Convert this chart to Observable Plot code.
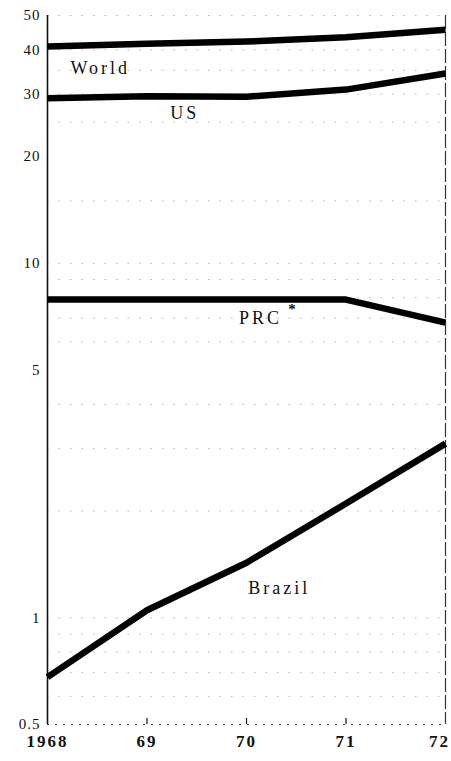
<!DOCTYPE html>
<html>
<head>
<meta charset="utf-8">
<script src="https://cdn.jsdelivr.net/npm/d3@7"></script>
<script src="https://cdn.jsdelivr.net/npm/@observablehq/plot@0.6"></script>
<style>
  html, body { margin: 0; padding: 0; background: #fff; }
  svg { display: block; }
  svg g[aria-label="text"] text { letter-spacing: 3px; }
  svg g[aria-label="x-axis tick label"] text { letter-spacing: 2px; }
  svg g[aria-label="y-axis tick label"] text { letter-spacing: 1px; }
</style>
</head>
<body>
<div id="chart"></div>
<script>
const years = [1968, 1969, 1970, 1971, 1972];
const world = [40.9, 41.6, 42.2, 43.4, 45.6];
const us = [29.2, 29.6, 29.5, 30.9, 34.3];
const prc = [7.9, 7.9, 7.9, 7.9, 6.8];
const brazil = [0.68, 1.05, 1.43, 2.1, 3.1];

const seriesNames = ["World", "US", "PRC", "Brazil"];
const seriesValues = [world, us, prc, brazil];

const labelText = ["World", "US", "PRC", "Brazil"];
const labelYear = [1968.53, 1969.38, 1970.14, 1970.33];
const labelValue = [35.4, 26.5, 7.0, 1.21];

const yTicks = [0.5, 1, 5, 10, 20, 30, 40, 50];
const yTickLabels = ["0.5", "1", "5", "10", "20", "30", "40", "50"];
const xTickLabels = ["1968", "69", "70", "71", "72"];
const gridValues = [0.6, 0.7, 0.8, 0.9, 1, 2, 3, 4, 6, 7, 8, 9, 10, 15, 25, 30, 35, 40, 50];

const rows = [];
seriesNames.forEach((name, i) => {
  years.forEach((yr, j) => rows.push({series: name, year: yr, value: seriesValues[i][j]}));
});
const labels = labelText.map((t, i) => ({text: t, year: labelYear[i], value: labelValue[i]}));

const font = "'Liberation Serif', 'DejaVu Serif', serif";
const xfmt = d => xTickLabels[years.indexOf(d)];

const chart = Plot.plot({
  width: 451,
  height: 761,
  marginLeft: 47,
  marginRight: 6,
  marginTop: 15,
  marginBottom: 37,
  style: {fontFamily: font, fontSize: "15px", color: "#111", background: "#fff"},
  x: {domain: [1968, 1972], label: null},
  y: {type: "log", domain: [0.5, 50], label: null},
  marks: [
    Plot.ruleY(gridValues, {stroke: "#888", strokeWidth: 1, strokeDasharray: "1.5,10", strokeOpacity: 0.6}),
    Plot.ruleY([0.5], {stroke: "#333", strokeWidth: 1, strokeDasharray: "2,6"}),
    Plot.ruleX([1969, 1970, 1971], {y1: 0.5, y2: 0.52, stroke: "#111", strokeWidth: 1.2}),
    Plot.ruleX([1968], {stroke: "#111", strokeWidth: 1.6}),
    Plot.ruleX([1972], {stroke: "#333", strokeWidth: 1.2, strokeDasharray: "14,3"}),
    Plot.line(rows, {x: "year", y: "value", z: "series", stroke: "#000", strokeWidth: 6.5, strokeLinejoin: "round", strokeLinecap: "butt"}),
    Plot.text(labels, {x: "year", y: "value", text: "text", fontSize: 18, fontFamily: font, fill: "#111"}),
    Plot.text([labels[2]], {x: "year", y: "value", text: () => "*", fontSize: 15, fontFamily: font, fontWeight: "bold", fill: "#111", dx: 33, dy: -9}),
    Plot.axisX({ticks: years.slice(0, 4), tickFormat: xfmt, tickSize: 0, tickPadding: 10, fontSize: 17, fontWeight: "bold"}),
    Plot.axisX({ticks: [1972], tickFormat: xfmt, tickSize: 0, tickPadding: 10, fontSize: 17, fontWeight: "bold", dx: -6}),
    Plot.axisY({ticks: yTicks, tickFormat: d => yTickLabels[yTicks.indexOf(d)], tickSize: 0, tickPadding: 7, fontSize: 15})
  ]
});
document.getElementById("chart").appendChild(chart);
</script>
</body>
</html>
